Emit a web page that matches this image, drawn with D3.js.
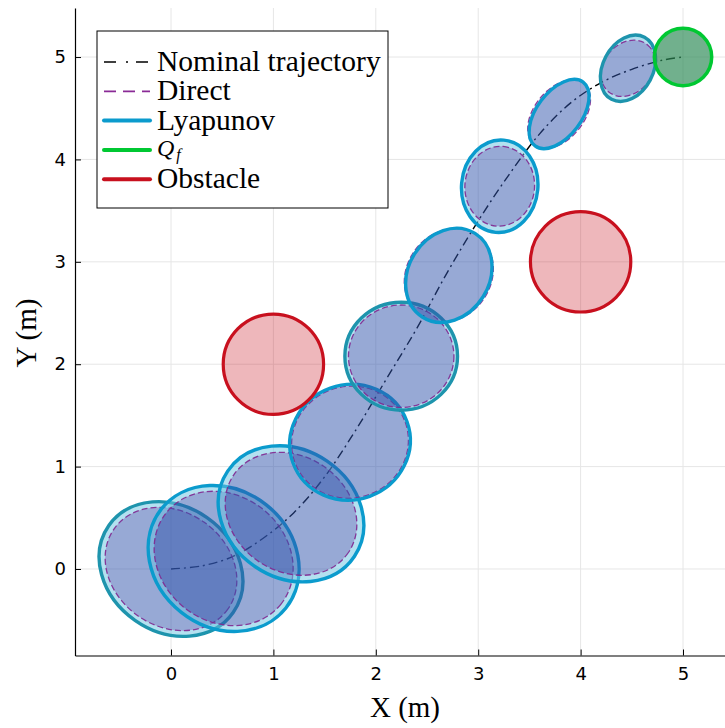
<!DOCTYPE html>
<html>
<head>
<meta charset="utf-8">
<script src="https://cdn.jsdelivr.net/npm/d3@7"></script>
<style>
  body { margin: 0; background: #fff; }
</style>
</head>
<body>
<svg id="chart" width="725" height="728"></svg>
<script>
// nominal trajectory (m)
const trajX = [0, 0.3, 0.6, 0.9, 1.2, 1.5, 1.8, 2.1, 2.4, 2.7, 3.0, 3.3, 3.6, 3.9, 4.2, 4.5, 4.8, 5.0];
const trajY = [0, 0.03, 0.12, 0.3, 0.55, 0.9, 1.35, 1.85, 2.35, 2.9, 3.4, 3.85, 4.25, 4.55, 4.75, 4.88, 4.97, 5.0];

// ellipse centres along the trajectory
const ellCx = [0.0, 0.514, 1.172, 1.748, 2.248, 2.713, 3.21, 3.79, 4.463];
const ellCy = [0.0, 0.103, 0.539, 1.238, 2.078, 2.868, 3.738, 4.443, 4.89];

// Lyapunov ellipses: semi-axes (m) and tilt (deg)
const lyapA   = [0.741, 0.777, 0.746, 0.592, 0.550, 0.483, 0.452, 0.390, 0.343];
const lyapB   = [0.613, 0.669, 0.624, 0.562, 0.527, 0.395, 0.373, 0.219, 0.245];
const lyapAng = [-35, -38.5, -34, 20, 0, 58, 85, 53, 62];

// Direct ellipses
const dirA   = [0.680, 0.716, 0.676, 0.574, 0.515, 0.478, 0.390, 0.385, 0.298];
const dirB   = [0.560, 0.615, 0.563, 0.545, 0.500, 0.412, 0.340, 0.242, 0.238];
const dirAng = [-35, -38.5, -34, 20, 0, 55, 85, 51, 50];

// obstacles and terminal set
const obsX = [1, 4];
const obsY = [2, 3];
const obsR = [0.49, 0.49];
const goalX = 5, goalY = 5, goalR = 0.28;

const xTicks = [0, 1, 2, 3, 4, 5];
const yTicks = [0, 1, 2, 3, 4, 5];

const legendLabels = ['Nominal trajectory', 'Direct', 'Lyapunov', 'Q_f', 'Obstacle'];

// styling
const lyapStroke = '#0b9bcd';
const lyapStrokeAlt = '#1e94ad';
const altOutline = [0, 4, 8];
const directStroke = '#7e2890';
const serif = '"Liberation Serif", "Times New Roman", serif';
const sans = '"DejaVu Sans", sans-serif';

const svg = d3.select('#chart');
const plot = {left: 75, right: 725, top: 8, bottom: 655.5};

const x = d3.scaleLinear().domain([-0.9375, 5.41]).range([plot.left, plot.right]);
const y = d3.scaleLinear().domain([-0.845, 5.479]).range([plot.bottom, plot.top]);
const k = x(1) - x(0);

const defs = svg.append('defs');

// grid
const grid = svg.append('g').attr('stroke', '#e6e6e6').attr('stroke-width', 1);
xTicks.forEach(t => grid.append('line')
    .attr('x1', x(t)).attr('x2', x(t)).attr('y1', plot.top).attr('y2', plot.bottom));
yTicks.forEach(t => grid.append('line')
    .attr('y1', y(t)).attr('y2', y(t)).attr('x1', plot.left).attr('x2', plot.right));

// nominal trajectory (under the ellipses)
const line = d3.line().x(d => x(d[0])).y(d => y(d[1])).curve(d3.curveCatmullRom);
svg.append('path')
    .datum(trajX.map((v, i) => [v, trajY[i]]))
    .attr('d', line)
    .attr('fill', 'none')
    .attr('stroke', '#000')
    .attr('stroke-width', 1.4)
    .attr('stroke-dasharray', '9,4,2,4');

function ellipse(sel, cx, cy, a, b, ang){
    return sel.append('ellipse')
        .attr('cx', 0).attr('cy', 0)
        .attr('rx', a * k).attr('ry', b * k)
        .attr('transform', `translate(${x(cx)},${y(cy)}) rotate(${-ang})`);
}

const ells = svg.append('g');
ellCx.forEach((cx, i) => {
    const cy = ellCy[i];
    const clipId = 'lyap' + i;
    ellipse(defs.append('clipPath').attr('id', clipId), cx, cy, lyapA[i], lyapB[i], lyapAng[i]);

    const fill = ells.append('g').attr('opacity', 0.5);
    ellipse(fill, cx, cy, lyapA[i], lyapB[i], lyapAng[i]).attr('fill', '#6ac4e2');
    ellipse(fill, cx, cy, dirA[i], dirB[i], dirAng[i]).attr('fill', '#cd87cd');
    ellipse(fill.append('g').attr('clip-path', `url(#${clipId})`), cx, cy, dirA[i], dirB[i], dirAng[i])
        .attr('fill', '#3155ad');

    ellipse(ells, cx, cy, dirA[i], dirB[i], dirAng[i])
        .attr('fill', 'none')
        .attr('stroke', directStroke)
        .attr('stroke-opacity', 0.9)
        .attr('stroke-width', 1.3)
        .attr('stroke-dasharray', '6,3');
    ellipse(ells, cx, cy, lyapA[i], lyapB[i], lyapAng[i])
        .attr('fill', 'none')
        .attr('stroke', altOutline.includes(i) ? lyapStrokeAlt : lyapStroke)
        .attr('stroke-width', 3.4);
});

// terminal set Q_f
svg.append('circle')
    .attr('cx', x(goalX)).attr('cy', y(goalY)).attr('r', goalR * k)
    .attr('fill', 'rgba(46,139,87,0.68)')
    .attr('stroke', '#00c832')
    .attr('stroke-width', 3.5);

// obstacles
svg.append('g').selectAll('circle')
    .data(obsX)
    .join('circle')
    .attr('cx', d => x(d))
    .attr('cy', (d, i) => y(obsY[i]))
    .attr('r', (d, i) => obsR[i] * k)
    .attr('fill', 'rgba(200,16,30,0.3)')
    .attr('stroke', '#c8101e')
    .attr('stroke-width', 3.2);

// axes
const xAxis = svg.append('g')
    .attr('transform', `translate(0,${plot.bottom})`)
    .call(d3.axisBottom(x).tickValues(xTicks).tickFormat(d3.format('d'))
        .tickSizeInner(-6).tickSizeOuter(0).tickPadding(12));
const yAxis = svg.append('g')
    .attr('transform', `translate(${plot.left},0)`)
    .call(d3.axisLeft(y).tickValues(yTicks).tickFormat(d3.format('d'))
        .tickSizeInner(-6).tickSizeOuter(0).tickPadding(9));
[xAxis, yAxis].forEach(ax => {
    ax.select('.domain').attr('stroke', '#000').attr('stroke-width', 1.2);
    ax.selectAll('.tick line').attr('stroke', '#000');
    ax.selectAll('.tick text').attr('fill', '#000')
        .style('font-family', sans).style('font-size', '18px');
});

svg.append('text')
    .attr('x', 405).attr('y', 717)
    .attr('text-anchor', 'middle')
    .style('font-family', serif).style('font-size', '29px')
    .text('X (m)');
svg.append('text')
    .attr('transform', 'translate(36,333) rotate(-90)')
    .attr('text-anchor', 'middle')
    .style('font-family', serif).style('font-size', '29px')
    .text('Y (m)');

// legend
const lg = svg.append('g');
lg.append('rect')
    .attr('x', 97).attr('y', 31).attr('width', 291).attr('height', 177)
    .attr('fill', '#fff').attr('stroke', '#000').attr('stroke-width', 1);

const legendStyle = [
    {stroke: '#000', width: 1.6, dash: '12,10,2,8'},
    {stroke: '#8a2a96', width: 1.8, dash: '12,7'},
    {stroke: lyapStroke, width: 4, dash: null},
    {stroke: '#00c832', width: 4, dash: null},
    {stroke: '#c8101e', width: 4, dash: null}
];

legendLabels.forEach((label, i) => {
    const cy = 62 + i * 29.3;
    const st = legendStyle[i];
    lg.append('line')
        .attr('x1', 104).attr('x2', 150).attr('y1', cy).attr('y2', cy)
        .attr('stroke', st.stroke).attr('stroke-width', st.width)
        .attr('stroke-linecap', st.dash ? 'butt' : 'round')
        .attr('stroke-dasharray', st.dash);
    const t = lg.append('text')
        .attr('x', 157).attr('y', cy + 9)
        .style('font-family', serif).style('font-size', '29.5px');
    if(label === 'Q_f'){
        t.attr('y', cy + 6);
        t.append('tspan').style('font-style', 'italic').style('font-size', '24px').text('Q');
        t.append('tspan').style('font-style', 'italic').style('font-size', '16px')
            .attr('dx', 2).attr('dy', 4).text('f');
    } else {
        t.text(label);
    }
});
</script>
</body>
</html>
